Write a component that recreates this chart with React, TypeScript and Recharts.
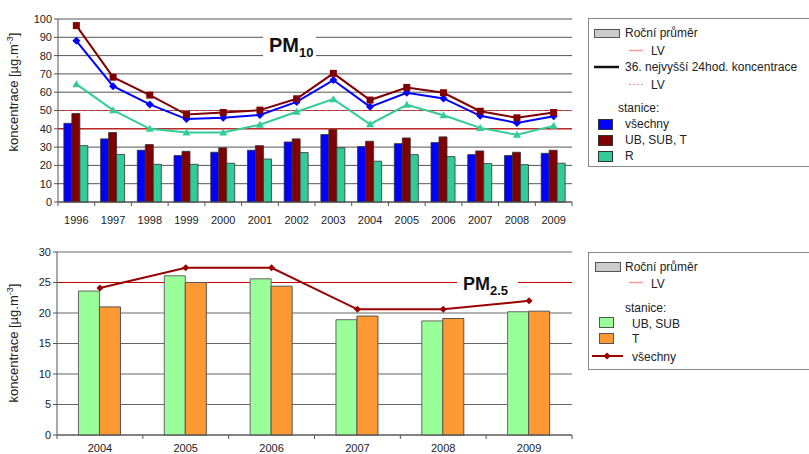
import React from 'react';
import { ComposedChart, Bar, Line, XAxis, YAxis, CartesianGrid, ReferenceLine } from 'recharts';

const FONT = '"Liberation Sans", Arial, sans-serif';

// ---------- PM10 data ----------
const pm10Years = ['1996', '1997', '1998', '1999', '2000', '2001', '2002', '2003', '2004', '2005', '2006', '2007', '2008', '2009'];
const pm10AnnualAll = [43, 34.5, 28.3, 25.4, 27.2, 28.3, 32.8, 36.9, 30.3, 31.9, 32.5, 25.9, 25.4, 26.6];
const pm10AnnualUrban = [48.4, 38, 31.4, 27.7, 29.6, 30.8, 34.5, 39.6, 33.2, 35, 35.6, 27.9, 27.2, 28.3];
const pm10AnnualRural = [30.8, 26, 20.6, 20.6, 21.2, 23.5, 27, 29.6, 22.3, 25.9, 24.8, 21, 20.4, 21.2];
const pm10Top36All = [88.1, 63.3, 53.3, 45.3, 46, 47.6, 54.7, 66.6, 52, 59.7, 56.6, 47.1, 43.2, 46.9];
const pm10Top36Urban = [96.4, 68.2, 58.4, 47.8, 48.9, 50.2, 56.4, 70.3, 55.7, 62.6, 59.7, 49.6, 46, 48.9];
const pm10Top36Rural = [64.4, 50.2, 40, 38, 38, 42.2, 49.3, 56.2, 42.5, 53.1, 47.4, 40.5, 36.7, 41.6];
const pm10Ticks = [0, 10, 20, 30, 40, 50, 60, 70, 80, 90, 100];
const pm10AnnualLV = 40;
const pm10DailyLV = 50;

// ---------- PM2.5 data ----------
const pm25Years = ['2004', '2005', '2006', '2007', '2008', '2009'];
const pm25UrbanSub = [23.6, 26.1, 25.6, 18.9, 18.7, 20.2];
const pm25Traffic = [21.0, 25.0, 24.4, 19.5, 19.1, 20.3];
const pm25All = [24.1, 27.4, 27.4, 20.6, 20.6, 22.0];
const pm25Ticks = [0, 5, 10, 15, 20, 25, 30];
const pm25LV = 25;

const pm10Data = pm10Years.map((year, i) => ({
  year,
  annAll: pm10AnnualAll[i],
  annUrban: pm10AnnualUrban[i],
  annRural: pm10AnnualRural[i],
  topAll: pm10Top36All[i],
  topUrban: pm10Top36Urban[i],
  topRural: pm10Top36Rural[i],
}));

const pm25Data = pm25Years.map((year, i) => ({
  year,
  urban: pm25UrbanSub[i],
  traffic: pm25Traffic[i],
  all: pm25All[i],
}));

const makeTick = (bw: number, textOffset: number, lastLabel: string) => (props: any) => {
  const { x, y, payload } = props;
  const left = x - bw / 2;
  const isLast = payload.value === lastLabel;
  return (
    <g>
      <line x1={left} x2={left} y1={y} y2={y + 4} stroke="#555" />
      {isLast && <line x1={x + bw / 2} x2={x + bw / 2} y1={y} y2={y + 4} stroke="#555" />}
      <text x={x} y={y + textOffset} textAnchor="middle" fontSize={11} fill="#222" fontFamily={FONT}>
        {payload.value}
      </text>
    </g>
  );
};

const YTitle = (props: any) => {
  const { cx, cy } = props;
  return (
    <text
      x={cx}
      y={cy}
      transform={`rotate(-90 ${cx} ${cy})`}
      textAnchor="middle"
      fontSize={13}
      fill="#222"
      fontFamily={FONT}
    >
      koncentrace [µg.m<tspan dy={-5} fontSize={9}>-3</tspan>
      <tspan dy={5}>]</tspan>
    </text>
  );
};

const SquareDot = (p: any) =>
  p.cx == null ? <g key={`s${p.index}`} /> : (
    <rect key={`s${p.index}`} x={p.cx - 3.5} y={p.cy - 3.5} width={7} height={7} fill="#800000" />
  );

const DiamondDot = (color: string, r: number) => (p: any) =>
  p.cx == null ? <g key={`d${p.index}`} /> : (
    <polygon
      key={`d${p.index}`}
      points={`${p.cx},${p.cy - r} ${p.cx + r},${p.cy} ${p.cx},${p.cy + r} ${p.cx - r},${p.cy}`}
      fill={color}
    />
  );

const TriangleDot = (p: any) =>
  p.cx == null ? <g key={`t${p.index}`} /> : (
    <polygon
      key={`t${p.index}`}
      points={`${p.cx},${p.cy - 4} ${p.cx + 4},${p.cy + 3} ${p.cx - 4},${p.cy + 3}`}
      fill="#33cc99"
    />
  );

const Overlay = () => (
  <svg
    width={809}
    height={454}
    style={{ position: 'absolute', left: 0, top: 0, pointerEvents: 'none' }}
    fontFamily={FONT}
  >
    {/* PM10 label */}
    <rect x={263} y={32} width={53} height={29} fill="#fff" />
    <text x={269} y={52} fontSize={20} fontWeight="bold" fill="#111">
      PM<tspan fontSize={13} dy={5}>10</tspan>
    </text>
    {/* PM2.5 label */}
    <rect x={457} y={272} width={61} height={28} fill="#fff" />
    <text x={463} y={290} fontSize={18} fontWeight="bold" fill="#111">
      PM<tspan fontSize={13} dy={5}>2.5</tspan>
    </text>

    {/* top legend */}
    <rect x={588.5} y={18.5} width={240} height={148} fill="#fff" stroke="#888" />
    <rect x={594.5} y={29.5} width={25} height={8} fill="#ccc" stroke="#555" />
    <text x={625} y={37} fontSize={12} fill="#222">Roční průměr</text>
    <line x1={629} x2={643} y1={50.5} y2={50.5} stroke="#ff9999" strokeWidth={1.5} />
    <text x={651} y={55} fontSize={12} fill="#222">LV</text>
    <line x1={594} x2={619} y1={67} y2={67} stroke="#111" strokeWidth={2.5} />
    <text x={625} y={71} fontSize={12} fill="#222">36. nejvyšší 24hod. koncentrace</text>
    <line x1={629} x2={643} y1={84.5} y2={84.5} stroke="#ff9999" strokeWidth={1.2} strokeDasharray="2 2" />
    <text x={651} y={89} fontSize={12} fill="#222">LV</text>
    <text x={618} y={112} fontSize={12} fill="#222">stanice:</text>
    <rect x={598.5} y={119.5} width={14} height={10} fill="#0000ff" stroke="#333" />
    <text x={625} y={128} fontSize={12} fill="#222">všechny</text>
    <rect x={598.5} y={135.5} width={14} height={10} fill="#800000" stroke="#333" />
    <text x={625} y={144} fontSize={12} fill="#222">UB, SUB, T</text>
    <rect x={598.5} y={151.5} width={14} height={10} fill="#33cc99" stroke="#333" />
    <text x={625} y={160} fontSize={12} fill="#222">R</text>

    {/* bottom legend */}
    <rect x={588.5} y={252.5} width={240} height={117} fill="#fff" stroke="#888" />
    <rect x={595.5} y={262.5} width={25} height={9} fill="#ccc" stroke="#555" />
    <text x={625} y={271} fontSize={12} fill="#222">Roční průměr</text>
    <line x1={629} x2={643} y1={282.5} y2={282.5} stroke="#ff9999" strokeWidth={1.5} />
    <text x={651} y={288} fontSize={12} fill="#222">LV</text>
    <text x={625} y={312} fontSize={12} fill="#222">stanice:</text>
    <rect x={599.5} y={317.5} width={14} height={10} fill="#99ff99" stroke="#555" />
    <text x={632} y={328} fontSize={12} fill="#222">UB, SUB</text>
    <rect x={599.5} y={333.5} width={14} height={10} fill="#ff9933" stroke="#555" />
    <text x={632} y={343} fontSize={12} fill="#222">T</text>
    <line x1={592} x2={623} y1={356} y2={356} stroke="#990000" strokeWidth={2} />
    <polygon points="607,352.5 610.5,356 607,359.5 603.5,356" fill="#990000" />
    <text x={632} y={361} fontSize={12} fill="#222">všechny</text>
  </svg>
);

export default function App() {
  return (
    <div
      style={{
        position: 'absolute',
        left: 0,
        top: 0,
        width: 809,
        height: 454,
        background: '#fff',
        overflow: 'hidden',
        fontFamily: FONT,
      }}
    >
      <div style={{ position: 'absolute', left: 0, top: 0 }}>
        <ComposedChart
          width={580}
          height={230}
          data={pm10Data}
          margin={{ top: 19, right: 8, left: 0, bottom: 8 }}
          barCategoryGap="16%"
          barGap={0}
        >
          <CartesianGrid vertical={false} stroke="#555" />
          <XAxis
            dataKey="year"
            height={20}
            tickSize={0}
            tickMargin={0}
            tickLine={false}
            interval={0}
            axisLine={{ stroke: '#555' }}
            tick={makeTick(514 / 14, 22, pm10Years[pm10Years.length - 1])}
          />
          <YAxis
            width={58}
            domain={[0, 100]}
            ticks={pm10Ticks}
            interval={0}
            tickSize={4}
            tickMargin={2}
            axisLine={{ stroke: '#555' }}
            tickLine={{ stroke: '#555' }}
            tick={{ fontSize: 11, fill: '#222', fontFamily: FONT }}
            label={<YTitle cx={18} cy={92} />}
          />
          <YAxis yAxisId="r" orientation="right" width={0} tick={false} tickLine={false} axisLine={{ stroke: '#999' }} />
          <ReferenceLine y={pm10AnnualLV} stroke="#dd0000" zIndex={-60} />
          <ReferenceLine y={pm10DailyLV} stroke="#ff3333" strokeDasharray="4 3" zIndex={-60} />
          <Bar dataKey="annAll" fill="#0000ff" stroke="#333" strokeWidth={0.8} isAnimationActive={false} />
          <Bar dataKey="annUrban" fill="#800000" stroke="#333" strokeWidth={0.8} isAnimationActive={false} />
          <Bar dataKey="annRural" fill="#33cc99" stroke="#333" strokeWidth={0.8} isAnimationActive={false} />
          <Line dataKey="topRural" stroke="#33cc99" strokeWidth={2} dot={TriangleDot} activeDot={false} isAnimationActive={false} />
          <Line dataKey="topAll" stroke="#0000ff" strokeWidth={2} dot={DiamondDot('#0000ff', 4)} activeDot={false} isAnimationActive={false} />
          <Line dataKey="topUrban" stroke="#800000" strokeWidth={2} dot={SquareDot} activeDot={false} isAnimationActive={false} />
        </ComposedChart>
      </div>
      <div style={{ position: 'absolute', left: 0, top: 233 }}>
        <ComposedChart
          width={580}
          height={221}
          data={pm25Data}
          margin={{ top: 19, right: 8, left: 0, bottom: 0 }}
          barCategoryGap="25%"
          barGap={0}
        >
          <CartesianGrid vertical={false} stroke="#666" />
          <XAxis
            dataKey="year"
            height={19}
            tickSize={0}
            tickMargin={0}
            tickLine={false}
            interval={0}
            axisLine={{ stroke: '#555' }}
            tick={makeTick(515 / 6, 17, pm25Years[pm25Years.length - 1])}
          />
          <YAxis
            width={57}
            domain={[0, 30]}
            ticks={pm25Ticks}
            interval={0}
            tickSize={4}
            tickMargin={2}
            axisLine={{ stroke: '#555' }}
            tickLine={{ stroke: '#555' }}
            tick={{ fontSize: 11, fill: '#222', fontFamily: FONT }}
            label={<YTitle cx={18} cy={110} />}
          />
          <YAxis yAxisId="r" orientation="right" width={0} tick={false} tickLine={false} axisLine={{ stroke: '#999' }} />
          <ReferenceLine y={pm25LV} stroke="#cc0000" zIndex={-60} />
          <Bar dataKey="urban" fill="#99ff99" stroke="#666" strokeWidth={1} isAnimationActive={false} />
          <Bar dataKey="traffic" fill="#ff9933" stroke="#555" strokeWidth={1} isAnimationActive={false} />
          <Line dataKey="all" stroke="#990000" strokeWidth={2} dot={DiamondDot('#990000', 3.5)} activeDot={false} isAnimationActive={false} />
        </ComposedChart>
      </div>
      <Overlay />
    </div>
  );
}
